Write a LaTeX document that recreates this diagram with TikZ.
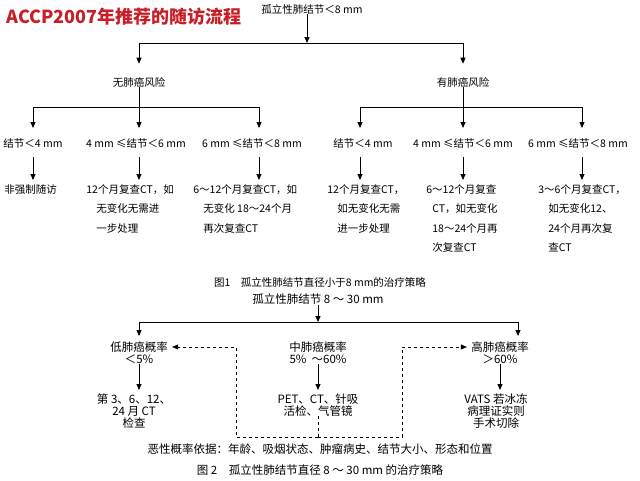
\documentclass[tikz,border=0pt]{standalone}
\usepackage{fontspec}
\setmainfont{Noto Sans CJK SC}
\usetikzlibrary{arrows.meta}
\definecolor{titlered}{RGB}{200,30,40}
\begin{document}
\begin{tikzpicture}[x=1pt,y=-1pt,line width=0.8pt,
    arr/.style={-{Triangle[length=6pt,width=5pt]}},
    dsh/.style={arr,dashed,line width=0.6pt},
    lbl/.style={inner sep=0pt,font=\fontsize{10.5}{11}\selectfont},
    txt/.style={lbl,anchor=north west,align=left,font=\fontsize{10.5}{19.5}\selectfont},
    big/.style={inner sep=0pt,font=\fontsize{11.5}{12}\selectfont,align=center}]
    \useasboundingbox[fill=white] (0,0) rectangle (640,480);
    % title
    \node[inner sep=0pt,anchor=west,text=titlered,font=\fontsize{18}{18}\selectfont\bfseries] (title) at (6,17) {ACCP2007年推荐的随访流程};
    % figure 1
    \node[lbl] (top) at (312,9) {孤立性肺结节＜8 mm};
    \coordinate (b1) at (307,43);
    \node[lbl] (nr) at (139,82) {无肺癌风险};
    \node[lbl] (yr) at (463,82) {有肺癌风险};
    \draw[arr] (top.south-|b1) -- (b1);
    \draw[arr] (b1) -| ([yshift=13pt]nr.north);
    \draw[arr] (b1) -| ([yshift=13pt]yr.north);
    % size classes
    \node[lbl] (n1) at (33,143) {结节＜4 mm};
    \node[lbl] (n2) at (136,143) {4 mm ≤结节＜6 mm};
    \node[lbl] (n3) at (252,143) {6 mm ≤结节＜8 mm};
    \node[lbl] (y1) at (363,143) {结节＜4 mm};
    \node[lbl] (y2) at (463,143) {4 mm ≤结节＜6 mm};
    \node[lbl] (y3) at (578,143) {6 mm ≤结节＜8 mm};
    \coordinate (b2) at (139,107);
    \coordinate (b3) at (463,107);
    \draw (nr.south) -- (b2);
    \draw (yr.south) -- (b3);
    \draw[arr] (b2) -- (139,128);
    \draw[arr] (b2) -| (33,128);
    \draw[arr] (b2) -| (259,128);
    \draw[arr] (b3) -- (463,128);
    \draw[arr] (b3) -| (360,128);
    \draw[arr] (b3) -| (582,128);
    % follow-up texts
    \node[txt] (t1) at (4,184) {非强制随访};
    \node[txt] (t2) at (86,184) {12个月复查CT，如\\\hspace*{10pt}无变化无需进\\\hspace*{10pt}一步处理};
    \node[txt] (t3) at (193,184) {6～12个月复查CT，如\\\hspace*{10pt}无变化 18～24个月\\\hspace*{10pt}再次复查CT};
    \node[txt] (t4) at (327,184) {12个月复查CT，\\\hspace*{10pt}如无变化无需\\\hspace*{10pt}进一步处理};
    \node[txt] (t5) at (426,184) {6～12个月复查\\\hspace*{6pt}CT，如无变化\\\hspace*{6pt}18～24个月再\\\hspace*{6pt}次复查CT};
    \node[txt] (t6) at (538,184) {3～6个月复查CT，\\\hspace*{10pt}如无变化12、\\\hspace*{10pt}24个月再次复\\\hspace*{10pt}查CT};
    \foreach \x in {33,139,259,360,463,582}
      \draw[arr] (\x,157) -- (\x,180);
    \node[lbl] (cap1) at (320,282) {图1\quad 孤立性肺结节直径小于8 mm的治疗策略};
    % figure 2
    \node[big] (top2) at (318,299) {孤立性肺结节\ 8 ～ 30 mm};
    \coordinate (b4) at (318,322);
    \node[big] (low) at (139,353) {低肺癌概率\\＜5\%};
    \node[big] (mid) at (318,353) {中肺癌概率\\5\% \ ～60\%};
    \node[big] (high) at (500,353) {高肺癌概率\\＞60\%};
    \draw[arr] (top2.south) -- (b4);
    \draw[arr] (b4) -| (139,336);
    \draw[arr] (b4) -| (518,336);
    \node[big,anchor=north] (lowt) at (134,393) {第 3、6、12、\\24 月 CT\\检查};
    \node[big,anchor=north] (midt) at (318,393) {PET、CT、针吸\\活检、气管镜};
    \node[big,anchor=north] (hight) at (496,393) {VATS 若冰冻\\病理证实则\\手术切除};
    \draw[arr] (low.south) -- ([yshift=3pt]lowt.north-|low.south);
    \draw[arr] (mid.south) -- ([yshift=3pt]midt.north);
    \draw[arr] (high.south) -- ([yshift=3pt]hight.north-|high.south);
    \coordinate (dl) at (236,437);
    \coordinate (dr) at (402,437);
    \draw[dashed,line width=0.6pt] (midt.south) -- (midt.south|-dl) coordinate (dm);
    \draw[dsh] (dm) -- (dl) |- ([xshift=4pt]low.east|-0,347);
    \draw[dsh] (dm) -- (dr) |- ([xshift=-4pt]high.west|-0,347);
    \node[big] (basis) at (320,449) {恶性概率依据：年龄、吸烟状态、肿瘤病史、结节大小、形态和位置};
    \node[big] (cap2) at (320,470) {图 2\quad 孤立性肺结节直径 8 ～ 30 mm 的治疗策略};
\end{tikzpicture}
\end{document}
